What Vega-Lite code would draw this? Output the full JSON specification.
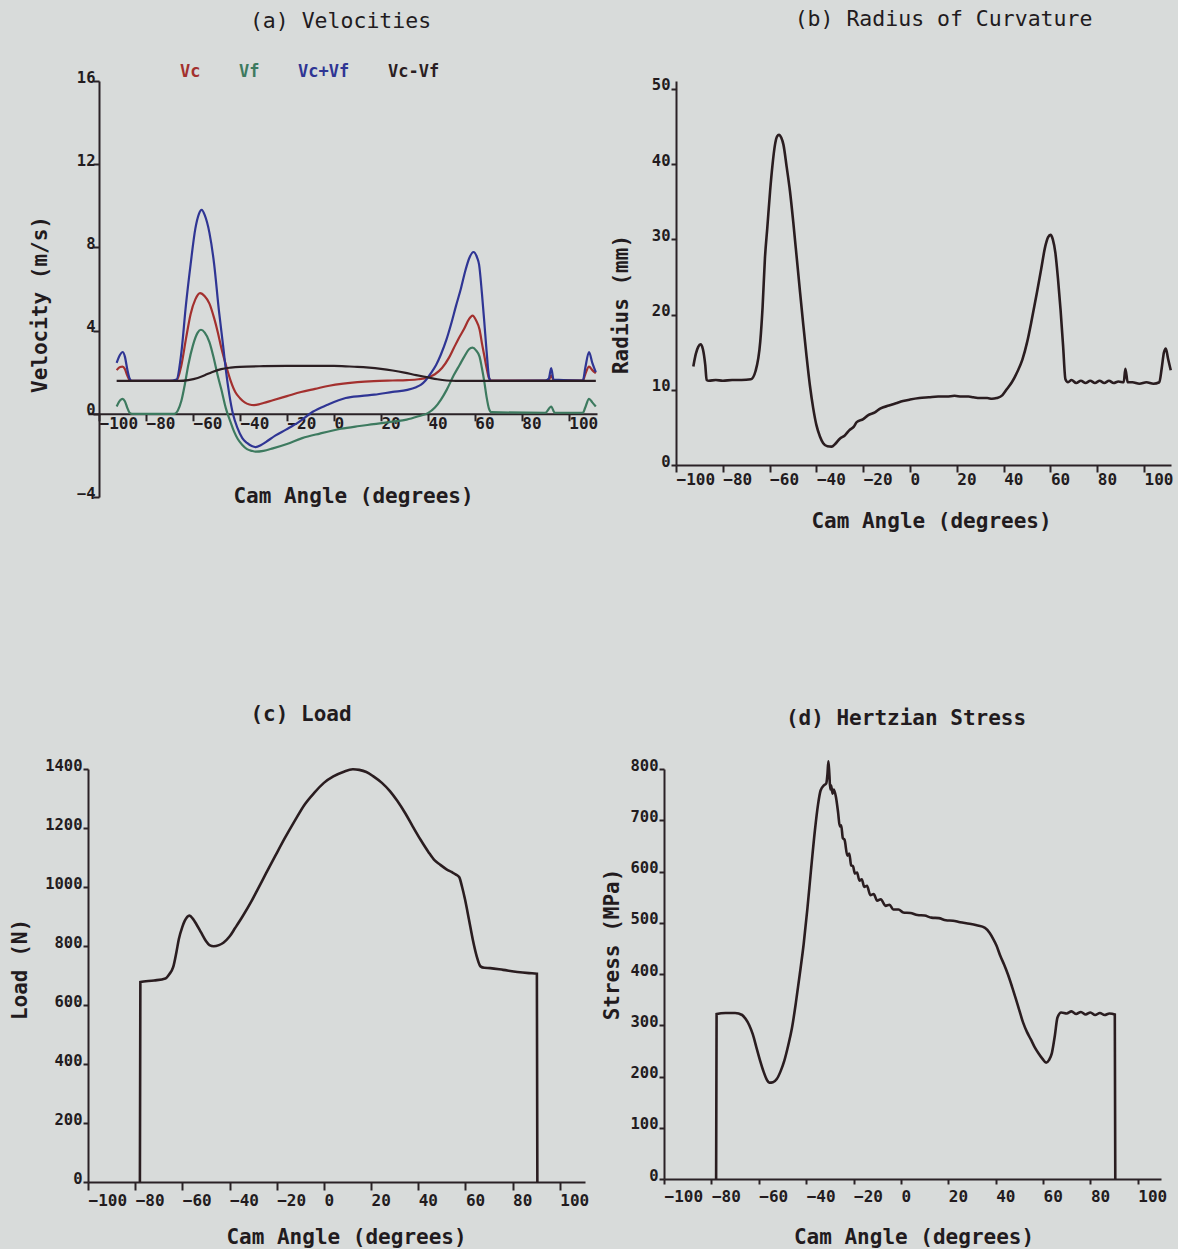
{
  "$schema": "https://vega.github.io/schema/vega-lite/v6.json",
  "background": "#d8dbda",
  "padding": {"left": 9, "top": 9, "right": 4, "bottom": 2},
  "config": {
    "view": {"stroke": null},
    "font": "DejaVu Sans Mono",
    "axis": {
      "grid": false, "domainColor": "#2a2226", "domainWidth": 2, "tickColor": "#2a2226", "tickWidth": 2,
      "labelFont": "DejaVu Sans Mono", "labelFontWeight": "bold", "labelFontSize": 16, "labelColor": "#221b1e",
      "labelOverlap": false, "labelFlush": false, "labelBound": false,
      "titleFont": "DejaVu Sans Mono", "titleFontWeight": "bold", "titleFontSize": 21, "titleColor": "#221b1e"
    },
    "axisX": {"labelAlign": "left", "labelDx": -2, "labelBaseline": "top", "titleBaseline": "middle", "titleAlign": "center", "titleAngle": 0},
    "axisY": {"labelAlign": "right", "labelBaseline": "alphabetic", "labelFontSize": 15.5, "labelOffset": 1, "titleAngle": -90, "titleAlign": "center", "titleBaseline": "middle"},
    "title": {"font": "DejaVu Sans Mono", "fontSize": 21.5, "color": "#221b1e", "frame": "group", "anchor": "middle", "baseline": "bottom"},
    "line": {"strokeWidth": 2.6, "interpolate": "monotone"}
  },
  "datasets": {
    "velocities": [
      {"s":"Vc","a":-92.5,"v":2.1},{"s":"Vc","a":-91,"v":2.25},{"s":"Vc","a":-90,"v":2.27},{"s":"Vc","a":-89,"v":2.15},{"s":"Vc","a":-88,"v":1.85},{"s":"Vc","a":-87,"v":1.62},{"s":"Vc","a":-86,"v":1.58},{"s":"Vc","a":-70,"v":1.58},{"s":"Vc","a":-67,"v":1.6},{"s":"Vc","a":-65,"v":2.3},{"s":"Vc","a":-63,"v":3.6},{"s":"Vc","a":-61,"v":4.8},{"s":"Vc","a":-59,"v":5.5},{"s":"Vc","a":-57,"v":5.8},{"s":"Vc","a":-55,"v":5.65},{"s":"Vc","a":-53,"v":5.3},{"s":"Vc","a":-51,"v":4.6},{"s":"Vc","a":-49.5,"v":3.95},{"s":"Vc","a":-48,"v":3.2},{"s":"Vc","a":-46,"v":2.35},{"s":"Vc","a":-44,"v":1.6},{"s":"Vc","a":-42,"v":1.05},{"s":"Vc","a":-40,"v":0.75},{"s":"Vc","a":-38,"v":0.55},{"s":"Vc","a":-36,"v":0.45},{"s":"Vc","a":-34,"v":0.42},{"s":"Vc","a":-32,"v":0.45},{"s":"Vc","a":-30,"v":0.52},{"s":"Vc","a":-26,"v":0.65},{"s":"Vc","a":-20,"v":0.85},{"s":"Vc","a":-14,"v":1.05},{"s":"Vc","a":-8,"v":1.2},{"s":"Vc","a":-2,"v":1.35},{"s":"Vc","a":4,"v":1.45},{"s":"Vc","a":10,"v":1.52},{"s":"Vc","a":17,"v":1.57},{"s":"Vc","a":25,"v":1.6},{"s":"Vc","a":31,"v":1.62},{"s":"Vc","a":36,"v":1.66},{"s":"Vc","a":40,"v":1.75},{"s":"Vc","a":43,"v":1.9},{"s":"Vc","a":46,"v":2.2},{"s":"Vc","a":49,"v":2.7},{"s":"Vc","a":51,"v":3.15},{"s":"Vc","a":53,"v":3.6},{"s":"Vc","a":55.5,"v":4.1},{"s":"Vc","a":57.5,"v":4.55},{"s":"Vc","a":59,"v":4.72},{"s":"Vc","a":60.5,"v":4.5},{"s":"Vc","a":62,"v":4.05},{"s":"Vc","a":63,"v":3.4},{"s":"Vc","a":64,"v":2.8},{"s":"Vc","a":65,"v":2.2},{"s":"Vc","a":66,"v":1.72},{"s":"Vc","a":67,"v":1.6},{"s":"Vc","a":90,"v":1.6},{"s":"Vc","a":91.5,"v":1.62},{"s":"Vc","a":92.5,"v":1.85},{"s":"Vc","a":93.5,"v":1.62},{"s":"Vc","a":106,"v":1.6},{"s":"Vc","a":107,"v":1.9},{"s":"Vc","a":108.6,"v":2.27},{"s":"Vc","a":110,"v":2.1},{"s":"Vc","a":111.5,"v":1.95},
      {"s":"Vf","a":-92.5,"v":0.35},{"s":"Vf","a":-91,"v":0.65},{"s":"Vf","a":-90,"v":0.72},{"s":"Vf","a":-89,"v":0.6},{"s":"Vf","a":-88,"v":0.3},{"s":"Vf","a":-87,"v":0.05},{"s":"Vf","a":-86,"v":0},{"s":"Vf","a":-68,"v":0},{"s":"Vf","a":-66.5,"v":0.15},{"s":"Vf","a":-65,"v":0.6},{"s":"Vf","a":-63.5,"v":1.4},{"s":"Vf","a":-62,"v":2.35},{"s":"Vf","a":-60,"v":3.3},{"s":"Vf","a":-58,"v":3.9},{"s":"Vf","a":-56.6,"v":4.04},{"s":"Vf","a":-55,"v":3.9},{"s":"Vf","a":-53,"v":3.45},{"s":"Vf","a":-51,"v":2.6},{"s":"Vf","a":-49.5,"v":1.85},{"s":"Vf","a":-48,"v":1.2},{"s":"Vf","a":-46,"v":0.26},{"s":"Vf","a":-44,"v":-0.4},{"s":"Vf","a":-42.5,"v":-0.86},{"s":"Vf","a":-41,"v":-1.2},{"s":"Vf","a":-39,"v":-1.5},{"s":"Vf","a":-37,"v":-1.7},{"s":"Vf","a":-35,"v":-1.78},{"s":"Vf","a":-33.3,"v":-1.82},{"s":"Vf","a":-30,"v":-1.78},{"s":"Vf","a":-26,"v":-1.66},{"s":"Vf","a":-20,"v":-1.45},{"s":"Vf","a":-13.5,"v":-1.17},{"s":"Vf","a":-6,"v":-0.95},{"s":"Vf","a":3,"v":-0.72},{"s":"Vf","a":10,"v":-0.6},{"s":"Vf","a":17,"v":-0.5},{"s":"Vf","a":25,"v":-0.38},{"s":"Vf","a":31,"v":-0.28},{"s":"Vf","a":36,"v":-0.12},{"s":"Vf","a":40,"v":0.03},{"s":"Vf","a":43,"v":0.3},{"s":"Vf","a":45.5,"v":0.67},{"s":"Vf","a":48,"v":1.15},{"s":"Vf","a":51,"v":1.85},{"s":"Vf","a":53.5,"v":2.35},{"s":"Vf","a":55.5,"v":2.75},{"s":"Vf","a":57.5,"v":3.1},{"s":"Vf","a":59,"v":3.18},{"s":"Vf","a":60.5,"v":3.05},{"s":"Vf","a":62,"v":2.75},{"s":"Vf","a":63,"v":2.2},{"s":"Vf","a":64,"v":1.56},{"s":"Vf","a":65,"v":0.8},{"s":"Vf","a":66,"v":0.25},{"s":"Vf","a":67,"v":0.08},{"s":"Vf","a":90,"v":0.05},{"s":"Vf","a":92.5,"v":0.35},{"s":"Vf","a":94,"v":0.05},{"s":"Vf","a":106,"v":0.05},{"s":"Vf","a":107,"v":0.3},{"s":"Vf","a":108.6,"v":0.72},{"s":"Vf","a":110,"v":0.55},{"s":"Vf","a":111.5,"v":0.35},
      {"s":"Vc+Vf","a":-92.5,"v":2.45},{"s":"Vc+Vf","a":-91,"v":2.85},{"s":"Vc+Vf","a":-90,"v":2.97},{"s":"Vc+Vf","a":-89,"v":2.75},{"s":"Vc+Vf","a":-88,"v":2.15},{"s":"Vc+Vf","a":-87,"v":1.7},{"s":"Vc+Vf","a":-86,"v":1.58},{"s":"Vc+Vf","a":-70,"v":1.58},{"s":"Vc+Vf","a":-67,"v":1.65},{"s":"Vc+Vf","a":-65,"v":2.9},{"s":"Vc+Vf","a":-63,"v":5.24},{"s":"Vc+Vf","a":-61,"v":7.2},{"s":"Vc+Vf","a":-59,"v":8.9},{"s":"Vc+Vf","a":-57.5,"v":9.6},{"s":"Vc+Vf","a":-56.3,"v":9.8},{"s":"Vc+Vf","a":-55,"v":9.55},{"s":"Vc+Vf","a":-53,"v":8.7},{"s":"Vc+Vf","a":-51,"v":7.2},{"s":"Vc+Vf","a":-49,"v":5.0},{"s":"Vc+Vf","a":-47,"v":3.1},{"s":"Vc+Vf","a":-46,"v":2.1},{"s":"Vc+Vf","a":-44.5,"v":0.9},{"s":"Vc+Vf","a":-43,"v":0.0},{"s":"Vc+Vf","a":-41,"v":-0.7},{"s":"Vc+Vf","a":-39,"v":-1.17},{"s":"Vc+Vf","a":-37,"v":-1.4},{"s":"Vc+Vf","a":-35,"v":-1.55},{"s":"Vc+Vf","a":-33.3,"v":-1.6},{"s":"Vc+Vf","a":-31,"v":-1.5},{"s":"Vc+Vf","a":-29,"v":-1.36},{"s":"Vc+Vf","a":-25,"v":-1.05},{"s":"Vc+Vf","a":-20.4,"v":-0.76},{"s":"Vc+Vf","a":-15,"v":-0.4},{"s":"Vc+Vf","a":-9,"v":0.1},{"s":"Vc+Vf","a":-3,"v":0.42},{"s":"Vc+Vf","a":5,"v":0.76},{"s":"Vc+Vf","a":12,"v":0.86},{"s":"Vc+Vf","a":17.2,"v":0.92},{"s":"Vc+Vf","a":25,"v":1.05},{"s":"Vc+Vf","a":31.3,"v":1.15},{"s":"Vc+Vf","a":35,"v":1.28},{"s":"Vc+Vf","a":37.1,"v":1.4},{"s":"Vc+Vf","a":39,"v":1.6},{"s":"Vc+Vf","a":41.3,"v":1.96},{"s":"Vc+Vf","a":43.5,"v":2.35},{"s":"Vc+Vf","a":45.5,"v":2.84},{"s":"Vc+Vf","a":48,"v":3.6},{"s":"Vc+Vf","a":49.8,"v":4.28},{"s":"Vc+Vf","a":52,"v":5.2},{"s":"Vc+Vf","a":54.1,"v":6.04},{"s":"Vc+Vf","a":56,"v":6.9},{"s":"Vc+Vf","a":57.6,"v":7.48},{"s":"Vc+Vf","a":59.4,"v":7.78},{"s":"Vc+Vf","a":61,"v":7.5},{"s":"Vc+Vf","a":61.8,"v":7.17},{"s":"Vc+Vf","a":63,"v":5.8},{"s":"Vc+Vf","a":64,"v":4.44},{"s":"Vc+Vf","a":65,"v":3.0},{"s":"Vc+Vf","a":66.1,"v":1.72},{"s":"Vc+Vf","a":67,"v":1.58},{"s":"Vc+Vf","a":90,"v":1.6},{"s":"Vc+Vf","a":91.5,"v":1.7},{"s":"Vc+Vf","a":92.5,"v":2.2},{"s":"Vc+Vf","a":93.5,"v":1.65},{"s":"Vc+Vf","a":106,"v":1.6},{"s":"Vc+Vf","a":107,"v":2.2},{"s":"Vc+Vf","a":108.6,"v":2.97},{"s":"Vc+Vf","a":110,"v":2.45},{"s":"Vc+Vf","a":111.5,"v":2.0},
      {"s":"Vc-Vf","a":-92.5,"v":1.58},{"s":"Vc-Vf","a":-66,"v":1.58},{"s":"Vc-Vf","a":-62,"v":1.62},{"s":"Vc-Vf","a":-58,"v":1.72},{"s":"Vc-Vf","a":-55,"v":1.85},{"s":"Vc-Vf","a":-52,"v":2.0},{"s":"Vc-Vf","a":-48,"v":2.15},{"s":"Vc-Vf","a":-44,"v":2.22},{"s":"Vc-Vf","a":-40,"v":2.26},{"s":"Vc-Vf","a":-30,"v":2.29},{"s":"Vc-Vf","a":-20,"v":2.3},{"s":"Vc-Vf","a":-10,"v":2.3},{"s":"Vc-Vf","a":0,"v":2.3},{"s":"Vc-Vf","a":5,"v":2.28},{"s":"Vc-Vf","a":10,"v":2.26},{"s":"Vc-Vf","a":15,"v":2.22},{"s":"Vc-Vf","a":20,"v":2.16},{"s":"Vc-Vf","a":25,"v":2.08},{"s":"Vc-Vf","a":30,"v":1.98},{"s":"Vc-Vf","a":35,"v":1.86},{"s":"Vc-Vf","a":40,"v":1.75},{"s":"Vc-Vf","a":44,"v":1.66},{"s":"Vc-Vf","a":48,"v":1.6},{"s":"Vc-Vf","a":52,"v":1.58},{"s":"Vc-Vf","a":111.5,"v":1.58}
    ],
    "radius": [
      {"a":-92.6,"r":13.1},{"a":-91.5,"r":14.8},{"a":-90.5,"r":15.7},{"a":-89.5,"r":16.05},{"a":-88.5,"r":15.4},{"a":-87.5,"r":13.3},{"a":-86.9,"r":11.3},{"a":-86,"r":11.2},{"a":-83,"r":11.3},{"a":-80,"r":11.2},{"a":-76,"r":11.3},{"a":-72,"r":11.3},{"a":-68,"r":11.4},{"a":-66,"r":12.5},{"a":-64,"r":16.4},{"a":-63,"r":21},{"a":-62,"r":27.5},{"a":-61,"r":31.5},{"a":-59.8,"r":36.4},{"a":-58.8,"r":39.8},{"a":-57.7,"r":42.6},{"a":-56.8,"r":43.7},{"a":-56,"r":43.9},{"a":-55,"r":43.5},{"a":-54.1,"r":42.6},{"a":-52.7,"r":39.6},{"a":-51.3,"r":36.4},{"a":-49.8,"r":32},{"a":-48.4,"r":27.5},{"a":-47,"r":23},{"a":-45.6,"r":18.6},{"a":-44.2,"r":14.4},{"a":-42.8,"r":10.6},{"a":-41.4,"r":7.6},{"a":-40,"r":5.3},{"a":-38.5,"r":3.8},{"a":-37.1,"r":2.9},{"a":-35.3,"r":2.5},{"a":-33.5,"r":2.44},{"a":-32,"r":2.8},{"a":-30,"r":3.5},{"a":-28,"r":3.9},{"a":-26,"r":4.6},{"a":-24,"r":5.1},{"a":-22.8,"r":5.7},{"a":-20,"r":6.1},{"a":-18,"r":6.6},{"a":-15,"r":7.0},{"a":-12.8,"r":7.5},{"a":-9,"r":7.9},{"a":-6,"r":8.2},{"a":-3,"r":8.5},{"a":0,"r":8.7},{"a":4,"r":8.9},{"a":8,"r":9.0},{"a":12,"r":9.1},{"a":15.7,"r":9.1},{"a":19,"r":9.2},{"a":22,"r":9.1},{"a":25,"r":9.1},{"a":27,"r":9.0},{"a":30,"r":8.9},{"a":33,"r":8.9},{"a":35,"r":8.8},{"a":37,"r":8.9},{"a":39.5,"r":9.3},{"a":41.4,"r":10.1},{"a":43.5,"r":11.0},{"a":45.7,"r":12.3},{"a":48,"r":14.0},{"a":50,"r":16.3},{"a":52,"r":19.3},{"a":54.2,"r":22.9},{"a":56,"r":26.0},{"a":57.8,"r":29.1},{"a":59,"r":30.3},{"a":60,"r":30.6},{"a":61,"r":30.0},{"a":62.1,"r":28.2},{"a":63.2,"r":24.8},{"a":64.3,"r":20.7},{"a":65.4,"r":15.8},{"a":66.4,"r":11.4},{"a":67.5,"r":11.0},{"a":69,"r":11.3},{"a":71,"r":10.9},{"a":73,"r":11.2},{"a":75,"r":10.9},{"a":77,"r":11.2},{"a":79,"r":10.9},{"a":81,"r":11.2},{"a":83,"r":10.9},{"a":85,"r":11.2},{"a":87,"r":10.9},{"a":89,"r":11.1},{"a":91.3,"r":11.0},{"a":92,"r":12.8},{"a":93,"r":11.0},{"a":95,"r":11.0},{"a":98,"r":10.8},{"a":101,"r":11.0},{"a":104,"r":10.8},{"a":106.5,"r":11.0},{"a":107.5,"r":12.8},{"a":108.5,"r":15.0},{"a":109.3,"r":15.5},{"a":110.2,"r":14.2},{"a":111.4,"r":12.6}
    ],
    "load": [
      {"a":-78.0,"l":0},{"a":-77.8,"l":678},{"a":-72,"l":683},{"a":-67.2,"l":690},{"a":-65.5,"l":705},{"a":-63.9,"l":728},{"a":-62.5,"l":780},{"a":-61.5,"l":823},{"a":-60,"l":865},{"a":-59,"l":885},{"a":-57,"l":903},{"a":-55.5,"l":892},{"a":-54,"l":873},{"a":-52,"l":845},{"a":-50,"l":817},{"a":-48.5,"l":803},{"a":-46.7,"l":799},{"a":-44.5,"l":803},{"a":-42.6,"l":811},{"a":-40,"l":832},{"a":-37.7,"l":860},{"a":-34.5,"l":900},{"a":-31.1,"l":946},{"a":-28,"l":993},{"a":-24.6,"l":1045},{"a":-20.5,"l":1107},{"a":-16.4,"l":1168},{"a":-12.3,"l":1225},{"a":-8.2,"l":1279},{"a":-4,"l":1320},{"a":0,"l":1353},{"a":4,"l":1375},{"a":8.2,"l":1390},{"a":12.3,"l":1399},{"a":15,"l":1397},{"a":18,"l":1390},{"a":21,"l":1375},{"a":24.6,"l":1353},{"a":28,"l":1325},{"a":31.1,"l":1292},{"a":34.5,"l":1250},{"a":37.7,"l":1205},{"a":41,"l":1160},{"a":44.3,"l":1119},{"a":47,"l":1090},{"a":49.2,"l":1076},{"a":52,"l":1060},{"a":54.1,"l":1051},{"a":56,"l":1042},{"a":57.4,"l":1033},{"a":58.6,"l":1000},{"a":59.8,"l":959},{"a":61.5,"l":890},{"a":63.1,"l":823},{"a":64.8,"l":765},{"a":66.4,"l":731},{"a":68,"l":726},{"a":70.5,"l":725},{"a":76,"l":719},{"a":82,"l":712},{"a":87,"l":708},{"a":90.3,"l":706},{"a":90.5,"l":0}
    ],
    "stress": [
      {"a":-78.0,"p":0},{"a":-77.8,"p":322},{"a":-74,"p":324},{"a":-70,"p":324},{"a":-67,"p":320},{"a":-65.5,"p":312},{"a":-64,"p":300},{"a":-62.5,"p":282},{"a":-61,"p":257},{"a":-59.5,"p":232},{"a":-58,"p":210},{"a":-56.5,"p":193},{"a":-55.6,"p":188},{"a":-54,"p":189},{"a":-52.4,"p":195},{"a":-50.8,"p":210},{"a":-49.2,"p":231},{"a":-47.6,"p":260},{"a":-46,"p":294},{"a":-44.3,"p":345},{"a":-42.7,"p":399},{"a":-41,"p":460},{"a":-39.5,"p":526},{"a":-38,"p":600},{"a":-36.3,"p":680},{"a":-35,"p":730},{"a":-33.9,"p":758},{"a":-32.5,"p":768},{"a":-31.5,"p":772},{"a":-31,"p":790},{"a":-30.6,"p":815},{"a":-30.2,"p":790},{"a":-29.8,"p":760},{"a":-29.5,"p":768},{"a":-28.8,"p":752},{"a":-28.3,"p":760},{"a":-27.4,"p":745},{"a":-26.5,"p":715},{"a":-25.8,"p":688},{"a":-25.2,"p":690},{"a":-24.5,"p":665},{"a":-23.8,"p":662},{"a":-22.6,"p":631},{"a":-21.8,"p":635},{"a":-21,"p":612},{"a":-20.2,"p":610},{"a":-19.4,"p":596},{"a":-18.5,"p":598},{"a":-17.5,"p":582},{"a":-16.5,"p":585},{"a":-15.5,"p":570},{"a":-14.3,"p":572},{"a":-12.9,"p":554},{"a":-11.5,"p":556},{"a":-10,"p":543},{"a":-8.5,"p":546},{"a":-6.5,"p":533},{"a":-4.8,"p":535},{"a":-3.2,"p":526},{"a":-1,"p":526},{"a":1,"p":520},{"a":4,"p":519},{"a":7,"p":515},{"a":10,"p":514},{"a":12.9,"p":510},{"a":16,"p":509},{"a":19,"p":505},{"a":22,"p":504},{"a":25,"p":501},{"a":29,"p":498},{"a":32,"p":495},{"a":35.5,"p":490},{"a":37.5,"p":480},{"a":39,"p":468},{"a":40.3,"p":456},{"a":42,"p":435},{"a":43.6,"p":418},{"a":45.2,"p":399},{"a":47,"p":374},{"a":48.5,"p":352},{"a":50,"p":329},{"a":51.6,"p":305},{"a":53.2,"p":287},{"a":54.8,"p":273},{"a":56.4,"p":258},{"a":58,"p":246},{"a":59.7,"p":235},{"a":61.3,"p":227},{"a":62.5,"p":232},{"a":63.7,"p":245},{"a":65,"p":280},{"a":66.1,"p":315},{"a":67.7,"p":325},{"a":70,"p":323},{"a":72,"p":327},{"a":74,"p":322},{"a":76,"p":326},{"a":78,"p":321},{"a":80,"p":325},{"a":82,"p":320},{"a":84,"p":324},{"a":86,"p":320},{"a":88,"p":323},{"a":90.3,"p":321},{"a":90.5,"p":0}
    ]
  },
  "spacing": 172,
  "vconcat": [
    {
      "spacing": 9,
      "hconcat": [
        {
          "width": 509, "height": 416,
          "title": {"text": "(a) Velocities", "fontWeight": "normal", "offset": 38, "dx": -2},
          "data": {"name": "velocities"},
          "mark": {"type": "line", "strokeWidth": 2.2},
          "encoding": {
            "x": {"field": "a", "type": "quantitative", "scale": {"domain": [-104.7, 112], "nice": false, "zero": false},
                  "axis": {"values": [-100,-80,-60,-40,-20,0,20,40,60,80,100], "format": "d", "title": "Cam Angle (degrees)", "offset": -83.2, "tickSize": 7, "labelPadding": -5, "titleX": 265, "titleY": 83}},
            "y": {"field": "v", "type": "quantitative", "scale": {"domain": [-4, 16], "nice": false, "zero": false},
                  "axis": {"values": [-4,0,4,8,12,16], "format": "d", "title": "Velocity (m/s)", "offset": -11, "tickSize": 6, "labelPadding": -2, "titleX": -59, "titleY": 223}},
            "color": {"field": "s", "type": "nominal",
                      "scale": {"domain": ["Vc","Vf","Vc+Vf","Vc-Vf"], "range": ["#a3302e","#3d7a5f","#2f3594","#2b1e22"]},
                      "legend": {"title": null, "orient": "none", "legendX": 75, "legendY": -17.7, "direction": "horizontal", "columns": 4, "columnPadding": 21, "padding": 0,
                                 "symbolSize": 0, "symbolOpacity": 0, "symbolStrokeWidth": 0, "labelOffset": 0,
                                 "labelFont": "DejaVu Sans Mono", "labelFontWeight": "bold", "labelFontSize": 17,
                                 "labelColor": {"expr": "datum.value === 'Vc' ? '#a3302e' : datum.value === 'Vf' ? '#3d7a5f' : datum.value === 'Vc+Vf' ? '#2f3594' : '#2b1e22'"}}}
          }
        },
        {
          "width": 495, "height": 384,
          "title": {"text": "(b) Radius of Curvature", "fontWeight": "normal", "offset": 47, "dx": 20},
          "data": {"name": "radius"},
          "mark": {"type": "line", "color": "#2a1d20"},
          "encoding": {
            "x": {"field": "a", "type": "quantitative", "scale": {"domain": [-100, 111.5], "nice": false, "zero": false},
                  "axis": {"values": [-100,-80,-60,-40,-20,0,20,40,60,80,100], "format": "d", "title": "Cam Angle (degrees)", "tickSize": 7, "labelPadding": -1, "titleX": 255, "titleY": 56}},
            "y": {"field": "r", "type": "quantitative", "scale": {"domain": [0, 51.06], "nice": false, "zero": false},
                  "axis": {"values": [0,10,20,30,40,50], "format": "d", "title": "Radius (mm)", "tickSize": 5, "labelPadding": 1, "titleX": -54.7, "titleY": 223}}
          }
        }
      ]
    },
    {
      "spacing": 12,
      "hconcat": [
        {
          "width": 497, "height": 413,
          "title": {"text": "(c) Load", "fontWeight": "bold", "fontSize": 21, "offset": 33.5, "dx": -35.5},
          "data": {"name": "load"},
          "mark": {"type": "line", "color": "#2a1d20"},
          "encoding": {
            "x": {"field": "a", "type": "quantitative", "scale": {"domain": [-100, 110.7], "nice": false, "zero": false},
                  "axis": {"values": [-100,-80,-60,-40,-20,0,20,40,60,80,100], "format": "d", "title": "Cam Angle (degrees)", "tickSize": 8, "labelPadding": 2, "titleX": 258, "titleY": 55}},
            "y": {"field": "l", "type": "quantitative", "scale": {"domain": [0, 1400], "nice": false, "zero": false},
                  "axis": {"values": [0,200,400,600,800,1000,1200,1400], "format": "d", "title": "Load (N)", "tickSize": 5, "labelPadding": 1, "titleX": -68, "titleY": 200}}
          }
        },
        {
          "width": 497, "height": 410,
          "title": {"text": "(d) Hertzian Stress", "fontWeight": "bold", "fontSize": 21, "offset": 27.5, "dx": -6.5},
          "data": {"name": "stress"},
          "mark": {"type": "line", "color": "#2a1d20"},
          "encoding": {
            "x": {"field": "a", "type": "quantitative", "scale": {"domain": [-100, 109.8], "nice": false, "zero": false},
                  "axis": {"values": [-100,-80,-60,-40,-20,0,20,40,60,80,100], "format": "d", "title": "Cam Angle (degrees)", "tickSize": 5, "labelPadding": 4, "titleX": 249.5, "titleY": 58}},
            "y": {"field": "p", "type": "quantitative", "scale": {"domain": [0, 800], "nice": false, "zero": false},
                  "axis": {"values": [0,100,200,300,400,500,600,700,800], "format": "d", "title": "Stress (MPa)", "tickSize": 5, "labelPadding": 1, "titleX": -52, "titleY": 175}}
          }
        }
      ]
    }
  ]
}
